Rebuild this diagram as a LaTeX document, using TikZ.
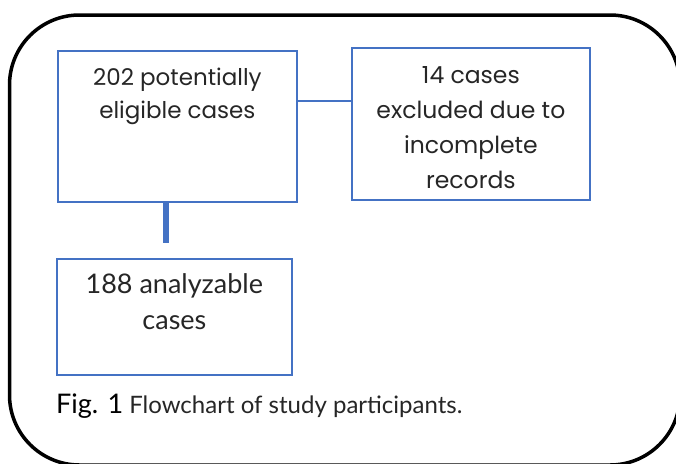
\documentclass[tikz,border=0pt]{standalone}
\usepackage{fontspec}
\usepackage{xcolor}
\usepackage{tikz}
\usetikzlibrary{positioning}
\newfontfamily\flowfont{Poppins}
\newfontfamily\notefont{Lato}
\definecolor{boxblue}{HTML}{4472C4}
% text at top of a fixed size box: width, height, first baseline, lines
\newcommand{\boxlines}[4]{\parbox[t][#2][t]{#1}{\centering\rule{0pt}{#3}#4\par}}

\begin{document}
\begin{tikzpicture}[
    x=1pt, y=-1pt,
    frame/.style={draw=black, line width=3.5pt, rounded corners=70pt},
    flowbox/.style={draw=boxblue, line width=1.8pt, inner sep=0pt, anchor=north west,
        text=black!85},
    link/.style={draw=boxblue, line width=1.6pt},
    trunk/.style={draw=boxblue, line width=6pt},
    lbl/.style={inner sep=0pt, text=black!85}
]
    \useasboundingbox (0,0) rectangle (676,463);
    \clip (0,0) rectangle (676,463);

    \draw[frame] (9.5,15) rectangle (680,465);

    \node[flowbox, font=\flowfont\fontsize{23}{33}\selectfont] (ELIG) at (57,50)
        {\boxlines{239pt}{151pt}{35pt}{202 potentially\\eligible cases}};
    \node[flowbox, font=\flowfont\fontsize{23.5}{34.7}\selectfont] (EXCL) at (351,47)
        {\boxlines{238pt}{152pt}{36pt}{14 cases\\excluded due to\\incomplete\\records}};
    \node[flowbox, font=\notefont\fontsize{27}{36}\selectfont] (KEEP) at (56,258)
        {\boxlines{235pt}{116pt}{35pt}{188 analyzable\\cases}};

    \coordinate (STUB) at (166,243);
    \draw[link] ([yshift=-51pt]ELIG.north east) -- ([yshift=-51pt]ELIG.north east -| EXCL.west);
    \draw[trunk] (STUB |- ELIG.south) -- (STUB);

    \node[lbl, anchor=base west, font=\notefont\fontsize{24}{28}\selectfont] (CAP) at (56,413)
        {{\color{black}\fontsize{27}{30}\selectfont Fig. 1} Flowchart of study participants.};
\end{tikzpicture}
\end{document}
